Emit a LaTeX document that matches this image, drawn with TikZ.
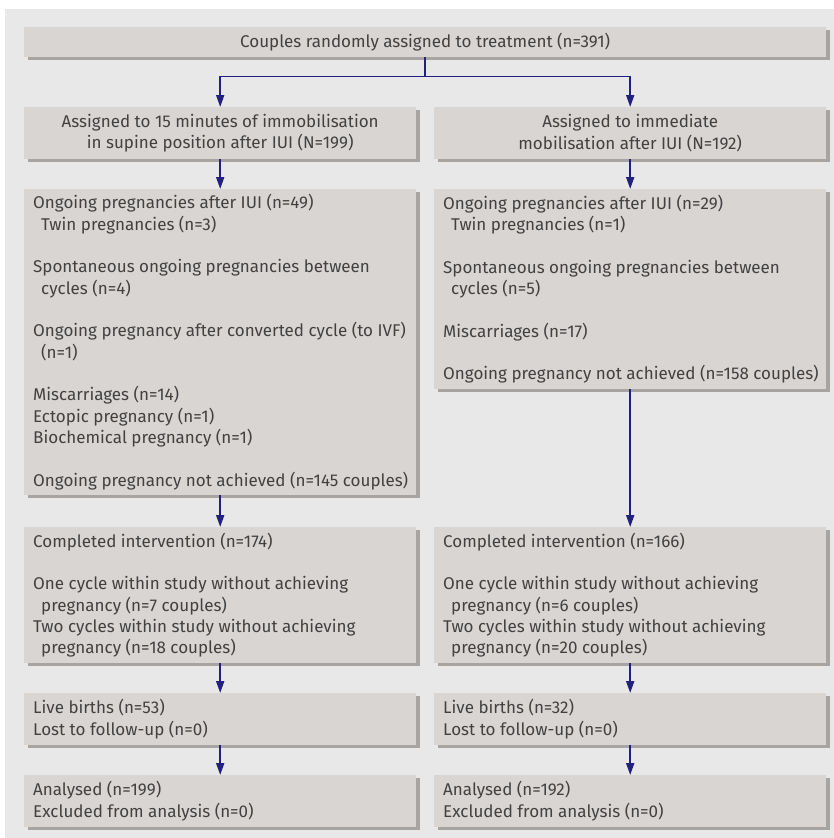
\documentclass[tikz,border=0pt]{standalone}
\usepackage{fontspec}
\setmainfont{Fira Sans}
\usetikzlibrary{shadows,arrows.meta}
\definecolor{bgc}{HTML}{E8E8E8}
\definecolor{boxc}{HTML}{D9D5D3}
\definecolor{shc}{HTML}{A8A4A2}
\definecolor{arrc}{HTML}{22227E}
\definecolor{txtc}{HTML}{414141}
\tikzset{
  box/.style={anchor=north west, fill=boxc, draw=none, inner sep=0pt,
    minimum width=392pt, align=center, text=txtc,
    font=\fontsize{17}{21.35}\selectfont,
    drop shadow={shadow xshift=4pt, shadow yshift=-3pt, fill=shc, opacity=1}},
  txt/.style={anchor=west, inner sep=0pt, align=left, text=txtc,
    font=\fontsize{17}{21.35}\selectfont},
  conn/.style={draw=arrc, line width=1.8pt},
  arr/.style={conn, -{Triangle[width=8pt,length=12pt]}}
}
\newcommand{\ind}{\hspace*{8pt}}
\begin{document}
\begin{tikzpicture}[x=1pt,y=-1pt]
\useasboundingbox (0,0) rectangle (834,838);
\fill[bgc] (5,9) rectangle (834,838);
\node[box, minimum width=802pt, minimum height=30pt] (top) at (24,27) {Couples randomly assigned to treatment (n=391)};
\node[box, minimum height=52pt] (L2) at (24,107) {Assigned to 15 minutes of immobilisation\\in supine position after IUI (N=199)};
\node[box, minimum height=52pt] (R2) at (434,107) {Assigned to immediate\\mobilisation after IUI (N=192)};
\node[box, minimum height=306pt] (L3) at (24,189) {};
\node[txt] (L3t) at ([xshift=9pt]L3.west) {Ongoing pregnancies after IUI (n=49)\\\ind Twin pregnancies (n=3)\\\mbox{}\\Spontaneous ongoing pregnancies between\\\ind cycles (n=4)\\\mbox{}\\Ongoing pregnancy after converted cycle (to IVF)\\\ind (n=1)\\\mbox{}\\Miscarriages (n=14)\\Ectopic pregnancy (n=1)\\Biochemical pregnancy (n=1)\\\mbox{}\\Ongoing pregnancy not achieved (n=145 couples)};
\node[box, minimum height=200pt] (R3) at (434,189) {};
\node[txt] (R3t) at ([xshift=9pt]R3.west) {Ongoing pregnancies after IUI (n=29)\\\ind Twin pregnancies (n=1)\\\mbox{}\\Spontaneous ongoing pregnancies between\\\ind cycles (n=5)\\\mbox{}\\Miscarriages (n=17)\\\mbox{}\\Ongoing pregnancy not achieved (n=158 couples)};
\node[box, minimum height=136pt] (L4) at (24,527) {};
\node[txt] (L4t) at ([xshift=9pt]L4.west) {Completed intervention (n=174)\\\mbox{}\\One cycle within study without achieving\\\ind pregnancy (n=7 couples)\\Two cycles within study without achieving\\\ind pregnancy (n=18 couples)};
\node[box, minimum height=136pt] (R4) at (434,527) {};
\node[txt] (R4t) at ([xshift=9pt]R4.west) {Completed intervention (n=166)\\\mbox{}\\One cycle within study without achieving\\\ind pregnancy (n=6 couples)\\Two cycles within study without achieving\\\ind pregnancy (n=20 couples)};
\node[box, minimum height=52pt] (L5) at (24,693) {};
\node[txt] (L5t) at ([xshift=9pt]L5.west) {Live births (n=53)\\Lost to follow-up (n=0)};
\node[box, minimum height=52pt] (R5) at (434,693) {};
\node[txt] (R5t) at ([xshift=9pt]R5.west) {Live births (n=32)\\Lost to follow-up (n=0)};
\node[box, minimum height=52pt] (L6) at (24,775) {};
\node[txt] (L6t) at ([xshift=9pt]L6.west) {Analysed (n=199)\\Excluded from analysis (n=0)};
\node[box, minimum height=52pt] (R6) at (434,775) {};
\node[txt] (R6t) at ([xshift=9pt]R6.west) {Analysed (n=192)\\Excluded from analysis (n=0)};
\coordinate (split) at ([yshift=-19pt]top.south);
\draw[conn] (top.south) -- (split);
\draw[arr] (split) -| (L2.north);
\draw[arr] (split) -| (R2.north);
\draw[arr] (L2.south) -- (L3.north);
\draw[arr] (R2.south) -- (R3.north);
\draw[arr] (L3.south) -- (L4.north);
\draw[arr] (R3.south) -- (R4.north);
\draw[arr] (L4.south) -- (L5.north);
\draw[arr] (R4.south) -- (R5.north);
\draw[arr] (L5.south) -- (L6.north);
\draw[arr] (R5.south) -- (R6.north);
\end{tikzpicture}
\end{document}
